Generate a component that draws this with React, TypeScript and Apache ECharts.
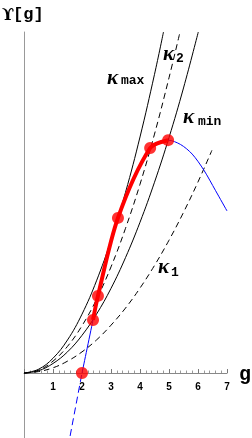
import React, { useEffect, useRef } from "react";
import * as echarts from "echarts";

// curves: [g, Υ]
const kMaxCurve = [[0,0],[0.5,0.13],[1,0.51],[1.5,1.14],[2,2.03],[2.5,3.18],[3,4.58],[3.5,6.23],[4,8.14],[4.5,10.3],[4.81,11.76]];
const k2Curve = [[0,0],[0.5,0.10],[1,0.41],[1.5,0.92],[2,1.63],[2.5,2.54],[3,3.66],[3.5,4.99],[4,6.51],[4.5,8.24],[5,10.18],[5.38,11.76]];
const kMinCurve = [[0,0],[0.5,0.08],[1,0.33],[1.5,0.73],[2,1.30],[2.5,2.03],[3,2.92],[3.5,3.98],[4,5.20],[4.5,6.58],[5,8.12],[5.5,9.83],[6.01,11.76]];
const k1Curve = [[0,0],[0.5,0.05],[1,0.18],[1.5,0.41],[2,0.73],[2.5,1.14],[3,1.65],[3.5,2.24],[4,2.93],[4.5,3.71],[5,4.58],[5.5,5.54],[6,6.59],[6.48,7.68]];
const blueLower = [[1.59,-2.17],[2,0]];
const blueUpper = [[2,0],[2.38,1.83],[2.55,2.66],[3.24,5.35],[4.35,7.76],[4.97,8.03],[5.4,7.88],[5.8,7.55],[6.2,7.0],[6.6,6.3],[7.0,5.59]];
const redPath = [[2.38,1.83],[2.55,2.66],[3.24,5.35],[4.35,7.76],[4.97,8.03]];
const redDots = [[2,0],[2.38,1.83],[2.55,2.66],[3.24,5.35],[4.35,7.76],[4.97,8.03]];
const xTickLabels = ["", "1", "2", "3", "4", "5", "6", "7"];
const yAxisTitle = "[g]";
const yAxisSymbol = "ϒ";
const xAxisTitle = "g";

export default function App() {
  const ref = useRef<HTMLDivElement>(null);
  useEffect(() => {
    if (!ref.current) return;
    const chart = echarts.init(ref.current, undefined, { renderer: "svg" });
    const black = (data: number[][], dashed: boolean) => ({
      type: "line",
      data,
      smooth: 0.4,
      showSymbol: false,
      silent: true,
      lineStyle: { color: "#000", width: 1, type: dashed ? [6, 4] : "solid" },
      z: 2,
    });
    const kappa = (x: number, y: number) => ({
      type: "text", x, y,
      style: { text: "κ", font: 'italic bold 21px "Liberation Serif"', fill: "#000", align: "left", verticalAlign: "middle" },
    });
    const sub = (x: number, y: number, t: string) => ({
      type: "text", x, y,
      style: { text: t, font: 'bold 13px "Liberation Mono"', fill: "#000", align: "left", verticalAlign: "middle" },
    });
    chart.setOption({
      animation: false,
      grid: [
        { left: 24, right: 25, top: 32, bottom: 0, containLabel: false, outerBoundsMode: "none" },
        { left: 24, right: 25, top: 32, bottom: 65, containLabel: false, outerBoundsMode: "none" },
      ],
      xAxis: [
        {
          type: "value", min: 0, max: 7, interval: 1, gridIndex: 0,
          axisLine: { onZero: true, lineStyle: { color: "#888", width: 1 } },
          axisTick: { inside: true, length: 4, lineStyle: { color: "#777" } },
          minorTick: { show: true, splitNumber: 5, length: 2.5, lineStyle: { color: "#999" } },
          splitLine: { show: false },
          axisLabel: { show: false },
        },
        {
          type: "value", min: 0, max: 7, interval: 1, gridIndex: 1,
          axisLine: { show: false },
          axisTick: { show: false },
          splitLine: { show: false },
          axisLabel: {
            margin: 8,
            color: "#000",
            fontSize: 10,
            fontWeight: "bold",
            fontFamily: "Liberation Sans",
            formatter: (v: number) => xTickLabels[Math.round(v)] ?? "",
          },
        },
      ],
      yAxis: [
        {
          type: "value", min: -2.24, max: 11.76, gridIndex: 0,
          axisLine: { show: true, onZero: false, lineStyle: { color: "#999", width: 1 } },
          axisTick: { show: false },
          axisLabel: { show: false },
          splitLine: { show: false },
        },
        { type: "value", min: 0, max: 11.76, gridIndex: 1, show: false },
      ],
      series: [
        black(kMaxCurve, false),
        black(k2Curve, true),
        black(kMinCurve, false),
        black(k1Curve, true),
        {
          type: "line", data: blueLower, showSymbol: false, silent: true,
          lineStyle: { color: "#0000ff", width: 1, type: [7, 4] }, z: 3,
        },
        {
          type: "line", data: blueUpper, smooth: 0.3, showSymbol: false, silent: true,
          lineStyle: { color: "#0000ff", width: 1 }, z: 3,
        },
        {
          type: "line", data: redPath, smooth: 0.3, showSymbol: false, silent: true,
          lineStyle: { color: "#ff0000", width: 4 }, z: 4,
        },
        {
          type: "scatter", data: redDots, symbolSize: 12, silent: true,
          itemStyle: { color: "#ff0000" }, z: 5,
        },
      ],
      graphic: [
        { type: "text", x: 2, y: 14, style: { text: yAxisSymbol, font: 'bold 16px "DejaVu Serif"', fill: "#000", align: "left", verticalAlign: "middle" } },
        { type: "text", x: 13, y: 14, style: { text: yAxisTitle, font: 'bold 17px "Liberation Mono"', fill: "#000", align: "left", verticalAlign: "middle" } },
        { type: "text", x: 239, y: 374, style: { text: xAxisTitle, font: 'bold 20px "Liberation Mono"', fill: "#000", align: "left", verticalAlign: "middle" } },
        kappa(107, 77), sub(121, 80, "max"),
        kappa(163, 53), sub(176, 58, "2"),
        kappa(183, 116), sub(198, 121, "min"),
        kappa(158, 266), sub(171, 272, "1"),
      ],
    });
    return () => chart.dispose();
  }, []);
  return <div ref={ref} style={{ position: "fixed", left: 0, top: 0, width: 252, height: 438 }} />;
}
